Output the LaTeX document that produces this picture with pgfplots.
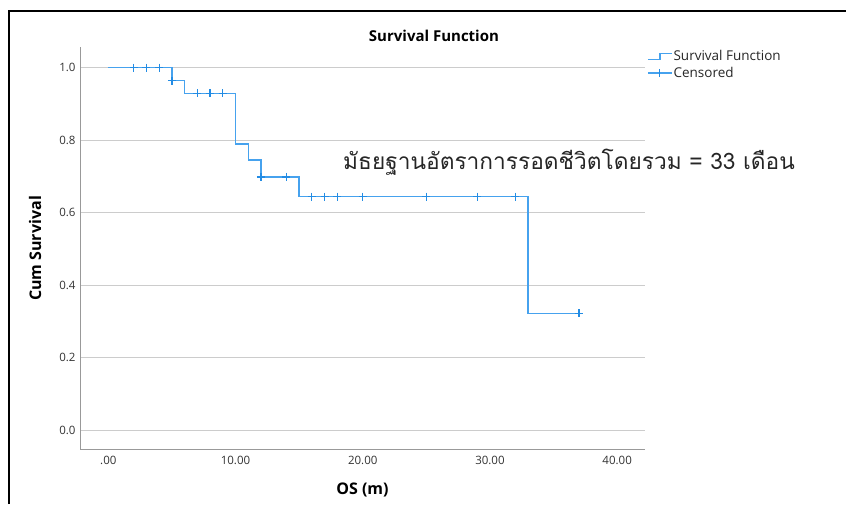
\documentclass[border=0pt]{standalone}
\usepackage{pgfplots}
\pgfplotsset{compat=1.18}
\usepackage{fontspec}
\setmainfont{Open Sans}
\newfontfamily\thaifont[Script=Thai]{Loma}
\definecolor{kmline}{RGB}{70,162,238}
\definecolor{kmmark}{RGB}{35,140,228}
\begin{document}
\begin{tikzpicture}[x=1pt,y=1pt]
\useasboundingbox (0,0) rectangle (846,504);
\draw[line width=1.6pt] (9,0) -- (9,493) -- (846,493);
\begin{axis}[
  at={(80pt,54.5pt)}, anchor=south west,
  scale only axis, width=565pt, height=402pt,
  xmin=-2.225, xmax=42.19, ymin=-0.0538, ymax=1.0552,
  clip=false,
  axis x line*=bottom, axis y line*=left,
  axis line style={-, draw=black!40, line width=0.9pt},
  xtick={0,10,20,30,40}, xticklabels={.00,10.00,20.00,30.00,40.00},
  ytick={0,0.2,0.4,0.6,0.8,1.0},
  yticklabel style={/pgf/number format/fixed, /pgf/number format/fixed zerofill, /pgf/number format/precision=1, xshift=-1pt},
  /pgf/number format/assume math mode=true,
  ticklabel style={font=\fontsize{11.5}{13}\selectfont, text=black!80},
  xticklabel style={yshift=-3pt},
  major tick length=0pt,
  ymajorgrids, grid style={draw=black!20, line width=0.9pt},
  title={Survival Function},
  title style={at={(axis description cs:0.6265,1.015)}, anchor=center, font=\bfseries\fontsize{15}{17}\selectfont},
  xlabel={OS (m)},
  xlabel style={at={(axis description cs:0.5,-0.0995)}, anchor=center, font=\bfseries\fontsize{16}{18}\selectfont},
  ylabel={Cum Survival},
  ylabel style={at={(axis description cs:-0.0796,0.5)}, anchor=center, font=\bfseries\fontsize{16}{18}\selectfont},
  legend style={at={(axis description cs:1.0035,0.995)}, anchor=north west, draw=none, fill=none,
    font=\fontsize{13.5}{15}\selectfont, inner sep=0pt, row sep=2.5pt,
    nodes={inner sep=1pt, text=black!85}},
  legend cell align=left,
]
\addplot[kmline, line width=1.4pt, const plot,
  legend image code/.code={\draw[kmline, line width=1.4pt] (0pt,-3pt) -- (12pt,-3pt) -- (12pt,3pt) -- (24pt,3pt);}]
  coordinates {(0,1)(5,0.964)(6,0.929)(10,0.789)(11,0.745)(12,0.698)(15,0.644)(33,0.322)(37,0.322)};
\addlegendentry{Survival Function}
\addplot[only marks, mark=+, mark size=4pt, kmmark, line width=1.2pt,
  legend image code/.code={\draw[kmline, line width=1.4pt] (0pt,0pt) -- (24pt,0pt); \draw[kmmark, line width=1.2pt] (12pt,-4pt) -- (12pt,4pt);}]
  coordinates {(2,1)(3,1)(4,1)(5,0.964)(7,0.929)(8,0.929)(9,0.929)(12,0.698)(14,0.698)
  (16,0.644)(17,0.644)(18,0.644)(20,0.644)(25,0.644)(29,0.644)(32,0.644)(37,0.322)};
\addlegendentry{Censored}
\node[anchor=west, inner sep=0pt, font=\thaifont\fontsize{22.7}{26}\selectfont, text=black!85]
  at (rel axis cs:0.4655,0.714) {มัธยฐานอัตราการรอดชีวิตโดยรวม = 33 เดือน};
\end{axis}
\end{tikzpicture}
\end{document}
